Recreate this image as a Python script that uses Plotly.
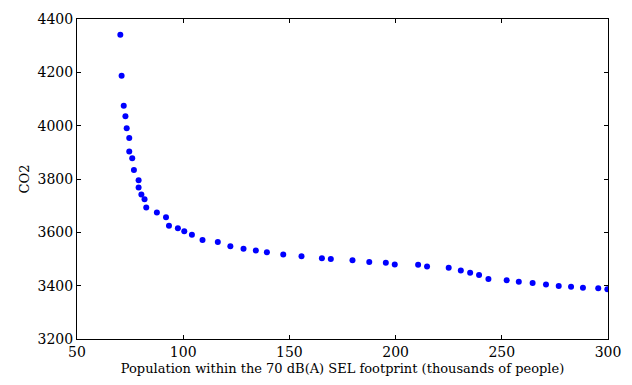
import plotly.graph_objects as go

population = [70.4, 71.0, 72.0, 72.8, 73.4, 74.6, 74.6, 76.0, 76.8, 79.0,
              79.0, 80.3, 81.8, 82.6, 87.6, 91.9, 93.3, 97.5, 100.5, 104.1,
              109.1, 116.3, 122.2, 128.4, 134.2, 139.4, 147.1, 155.7, 165.3, 169.5,
              179.7, 187.6, 195.4, 199.6, 210.6, 214.8, 225.0, 230.7, 235.1, 239.3,
              243.7, 252.3, 258.0, 264.5, 270.8, 276.8, 282.6, 288.2, 295.4, 299.7]
co2 = [4341, 4187, 4075, 4035, 3990, 3954, 3903, 3878, 3834, 3795,
       3768, 3742, 3724, 3693, 3674, 3657, 3625, 3615, 3604, 3591,
       3571, 3564, 3548, 3538, 3532, 3525, 3517, 3510, 3503, 3500,
       3495, 3489, 3486, 3479, 3478, 3472, 3467, 3457, 3448, 3440,
       3425, 3420, 3415, 3410, 3404, 3399, 3396, 3392, 3390, 3387]

x_ticks = [50, 100, 150, 200, 250, 300]
y_ticks = [3200, 3400, 3600, 3800, 4000, 4200, 4400]

font_family = "DejaVu Serif"

fig = go.Figure(
    go.Scatter(
        x=population, y=co2, mode="markers",
        marker=dict(color="#0000ff", size=6, line=dict(width=0)),
        cliponaxis=True,
    )
)

axis_common = dict(
    showline=True, linecolor="black", linewidth=1, mirror="ticks",
    ticks="inside", ticklen=4, tickwidth=1, tickcolor="black",
    showgrid=False, zeroline=False,
    tickfont=dict(family=font_family, size=14, color="black"),
)

fig.update_xaxes(range=[50, 300], tickvals=x_ticks,
                 ticktext=[str(v) for v in x_ticks],
                 title=dict(text="Population within the 70 dB(A) SEL footprint (thousands of people)",
                            font=dict(family=font_family, size=13, color="black"), standoff=5),
                 **axis_common)
fig.update_yaxes(range=[3200, 4400], tickvals=y_ticks,
                 ticktext=[str(v) for v in y_ticks],
                 title=dict(text="CO2", font=dict(family=font_family, size=13, color="black"), standoff=5),
                 **axis_common)

fig.update_layout(
    width=632, height=385,
    margin=dict(l=77, r=23, t=11, b=43),
    plot_bgcolor="white", paper_bgcolor="white",
    showlegend=False,
)

fig.write_html("out.html")
